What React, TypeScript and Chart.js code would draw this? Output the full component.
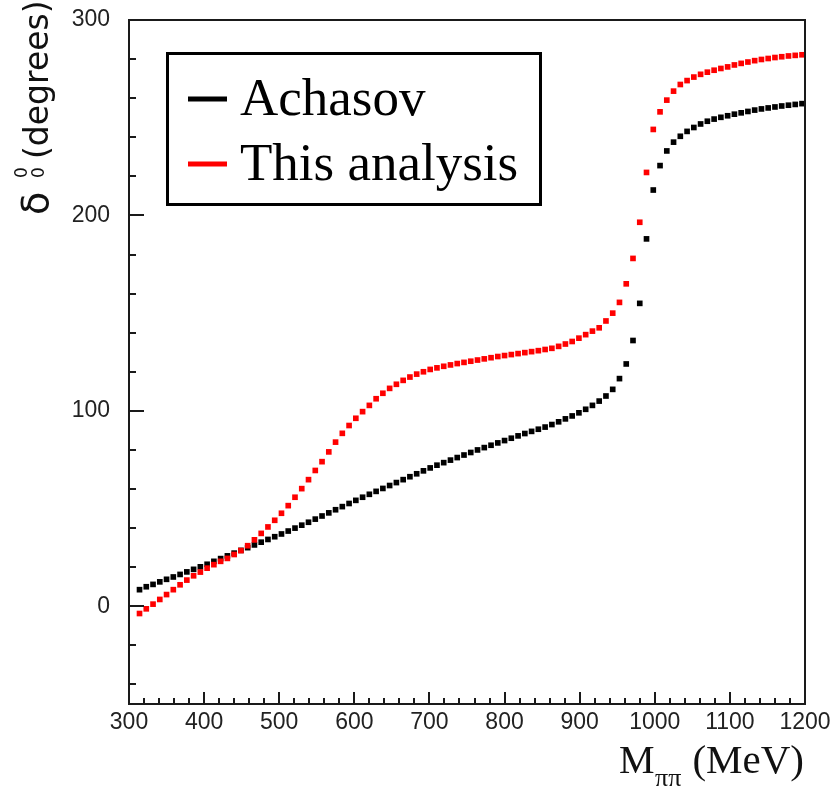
import React, { useEffect, useRef } from "react";
import { Chart, registerables } from "chart.js";

Chart.register(...registerables);

const MASS_MEV = [
  314, 323, 332, 341, 350, 359, 368, 377, 386, 395,
  404, 413, 422, 431, 440, 449, 458, 467, 476, 485,
  494, 503, 512, 521, 530, 539, 548, 557, 566, 575,
  584, 593, 602, 611, 620, 629, 638, 647, 656, 665,
  674, 683, 692, 701, 710, 719, 728, 737, 746, 755,
  764, 773, 782, 791, 800, 809, 818, 827, 836, 845,
  854, 863, 872, 881, 890, 899, 908, 917, 926, 935,
  944, 953, 962, 971, 980, 989, 998, 1007, 1016, 1025,
  1034, 1043, 1052, 1061, 1070, 1079, 1088, 1097, 1106, 1115,
  1124, 1133, 1142, 1151, 1160, 1169, 1178, 1187, 1196,
];

const ACHASOV = [
  8.5, 10, 11.2, 12.5, 13.8, 15, 16.3, 17.6, 18.9, 20.2,
  21.5, 23, 24.4, 25.8, 27.2, 28.6, 30, 31.4, 32.8, 34.2,
  35.6, 37, 38.5, 40, 41.5, 43, 44.6, 46.2, 47.8, 49.4,
  51, 52.6, 54.2, 55.8, 57.3, 58.8, 60.3, 61.8, 63.3, 64.8,
  66.3, 67.8, 69.3, 70.8, 72.2, 73.5, 74.8, 76.1, 77.4, 78.7,
  80, 81.2, 82.4, 83.6, 84.8, 86, 87.2, 88.4, 89.5, 90.6,
  91.7, 93, 94.4, 95.9, 97.4, 99, 100.8, 102.8, 105, 107.6,
  111, 116.5, 124, 136, 155, 188, 213, 225.5, 233, 237.5,
  240.5, 243, 245, 246.8, 248.2, 249.3, 250.2, 251, 251.8, 252.5,
  253.2, 253.9, 254.5, 255, 255.5, 256, 256.4, 256.8, 257.2,
];

const THIS_ANALYSIS = [
  -3.7, -1.3, 1.1, 3.5, 6, 8.5, 11, 13.4, 15.6, 17.5,
  19.5, 21.3, 23, 24.5, 26.5, 28.5, 31, 34, 37.3, 40.6,
  44, 47.6, 51.5, 55.8, 60.2, 64.8, 69.5, 74, 79, 84,
  88.5, 92.5, 96.2, 99.6, 102.8, 106.2, 109, 111.5, 113.6, 115.6,
  117.3, 118.8, 120, 121.2, 122, 122.8, 123.5, 124.2, 124.8, 125.4,
  126, 126.6, 127.2, 127.8, 128.3, 128.8, 129.3, 129.8, 130.3, 130.8,
  131.4, 132, 133, 134.2, 135.5, 137.2, 139, 140.8, 142.5, 146,
  150, 155.5, 165, 178, 196.5, 222, 244, 253, 259, 263.6,
  267, 269, 270.8, 272.2, 273.3, 274.3, 275.2, 276, 277, 277.8,
  278.5, 279.2, 279.8, 280.3, 280.8, 281.2, 281.6, 281.9, 282.2,
];

const X_TICKS = [300, 400, 500, 600, 700, 800, 900, 1000, 1100, 1200];
const Y_TICKS = [0, 100, 200, 300];
const SERIES_LABELS = ["Achasov", "This analysis"];
const SERIES_COLORS = ["#000000", "#ff0000"];

const AXIS_COLOR = "#1a1a1a";

const decorPlugin = {
  id: "decor",
  afterDatasetsDraw(chart: any) {
    const { ctx, chartArea, scales } = chart;
    const xs = scales.x;
    const ys = scales.y;
    const { left, right, top, bottom } = chartArea;
    ctx.save();

    // frame
    ctx.strokeStyle = AXIS_COLOR;
    ctx.lineWidth = 2;
    ctx.strokeRect(left, top, right - left, bottom - top);

    // x ticks (inside)
    for (let v = xs.min + 20; v < xs.max; v += 20) {
      const px = Math.round(xs.getPixelForValue(v));
      const len = v % 100 === 0 ? 12 : 6;
      ctx.beginPath();
      ctx.moveTo(px, bottom);
      ctx.lineTo(px, bottom - len);
      ctx.stroke();
    }
    // y ticks (inside)
    for (let v = -40; v < ys.max; v += 20) {
      const py = Math.round(ys.getPixelForValue(v));
      const len = v % 100 === 0 ? 15 : 7;
      ctx.beginPath();
      ctx.moveTo(left, py);
      ctx.lineTo(left + len, py);
      ctx.stroke();
    }

    // y-axis title
    ctx.fillStyle = "#111";
    ctx.save();
    ctx.translate(48, 215);
    ctx.rotate(-Math.PI / 2);
    ctx.textBaseline = "alphabetic";
    ctx.textAlign = "left";
    ctx.font = "38px 'DejaVu Sans'";
    ctx.fillText("\u03b4", 0, 0);
    ctx.font = "17px 'DejaVu Sans'";
    ctx.fillText("0", 37, -21);
    ctx.fillText("0", 37, -4);
    ctx.font = "33px 'DejaVu Sans'";
    ctx.fillText("(degrees)", 56, 0);
    ctx.restore();

    // x-axis title
    ctx.textBaseline = "alphabetic";
    ctx.font = "40px 'Liberation Serif'";
    ctx.textAlign = "left";
    ctx.fillText("M", 619, 773);
    ctx.font = "26px 'Liberation Serif'";
    ctx.fillText("\u03c0\u03c0", 655, 786);
    ctx.font = "41px 'Liberation Serif'";
    ctx.textAlign = "right";
    ctx.fillText("(MeV)", 804, 773);

    // legend
    const lx = 167.5, ly = 53.5, lw = 373, lh = 151;
    ctx.fillStyle = "#ffffff";
    ctx.fillRect(lx, ly, lw, lh);
    ctx.strokeStyle = "#000";
    ctx.lineWidth = 3;
    ctx.strokeRect(lx, ly, lw, lh);
    const rows = [99, 164];
    SERIES_LABELS.forEach((label, i) => {
      ctx.strokeStyle = SERIES_COLORS[i];
      ctx.lineWidth = 5;
      ctx.beginPath();
      ctx.moveTo(188, rows[i]);
      ctx.lineTo(227, rows[i]);
      ctx.stroke();
      ctx.fillStyle = "#000";
      ctx.font = "53px 'Liberation Serif'";
      ctx.textAlign = "left";
      ctx.fillText(label, 240, rows[i] + 16);
    });

    ctx.restore();
  },
};

export default function App() {
  const canvasRef = useRef<HTMLCanvasElement | null>(null);

  useEffect(() => {
    const canvas = canvasRef.current;
    if (!canvas) return;
    const toPoints = (ys: number[]) => MASS_MEV.map((x, i) => ({ x, y: ys[i] }));
    const chart = new Chart(canvas, {
      type: "scatter",
      data: {
        datasets: [
          {
            label: SERIES_LABELS[0],
            data: toPoints(ACHASOV),
            backgroundColor: SERIES_COLORS[0],
            borderColor: SERIES_COLORS[0],
            borderWidth: 0,
            pointStyle: "rect",
            pointRadius: 4,
            showLine: false,
            order: 1,
          },
          {
            label: SERIES_LABELS[1],
            data: toPoints(THIS_ANALYSIS),
            backgroundColor: SERIES_COLORS[1],
            borderColor: SERIES_COLORS[1],
            borderWidth: 0,
            pointStyle: "rect",
            pointRadius: 4,
            showLine: false,
            order: 0,
          },
        ],
      },
      options: {
        responsive: false,
        animation: false,
        devicePixelRatio: 1,
        layout: { padding: { left: 0, top: 20, right: 27, bottom: 0 } },
        plugins: {
          legend: { display: false },
          tooltip: { enabled: false },
        },
        scales: {
          x: {
            type: "linear",
            min: 300,
            max: 1200,
            border: { display: false },
            grid: { display: false, drawTicks: false },
            afterFit: (s: any) => {
              s.height = 86;
              s.paddingLeft = 0;
              s.paddingRight = 0;
            },
            afterBuildTicks: (s: any) => {
              s.ticks = X_TICKS.map((v) => ({ value: v }));
            },
            ticks: {
              padding: 5,
              color: "#222",
              font: { family: "'Liberation Sans'", size: 23 },
              maxRotation: 0,
              autoSkip: false,
              callback: (v: any) => String(v),
            },
          },
          y: {
            type: "linear",
            min: -50,
            max: 300,
            border: { display: false },
            grid: { display: false, drawTicks: false },
            afterFit: (s: any) => {
              s.width = 129;
              s.paddingTop = 0;
              s.paddingBottom = 0;
            },
            afterBuildTicks: (s: any) => {
              s.ticks = Y_TICKS.map((v) => ({ value: v }));
            },
            ticks: {
              padding: 19,
              color: "#222",
              font: { family: "'Liberation Sans'", size: 23 },
              autoSkip: false,
              callback: (v: any) => String(v),
            },
          },
        },
      },
      plugins: [decorPlugin],
    } as any);
    return () => chart.destroy();
  }, []);

  return (
    <div style={{ position: "absolute", left: 0, top: 0, width: 832, height: 790, background: "#fff" }}>
      <canvas ref={canvasRef} width={832} height={790} style={{ display: "block" }} />
    </div>
  );
}
